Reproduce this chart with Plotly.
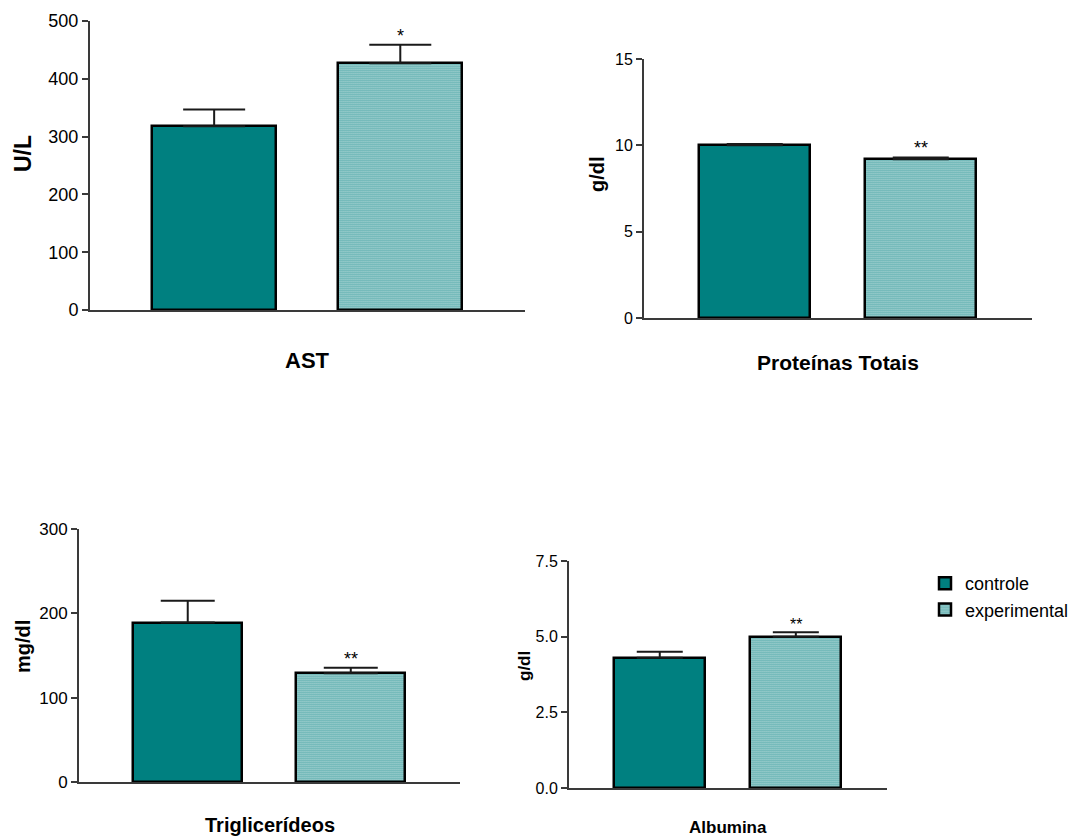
import plotly.graph_objects as go

# ---- data -------------------------------------------------------------
panel_titles = ["AST", "Proteínas Totais", "Triglicerídeos", "Albumina"]
y_units = ["U/L", "g/dl", "mg/dl", "g/dl"]
groups = ["controle", "experimental"]

control_mean = [318, 10.0, 189, 4.30]
control_sem = [29, 0.08, 26, 0.20]
exp_mean = [427, 9.2, 129, 5.0]
exp_sem = [32, 0.10, 6.5, 0.15]
significance = ["*", "**", "**", "**"]

y_max = [500, 15, 300, 7.5]
y_dtick = [100, 5, 100, 2.5]
y_tickformat = ["d", "d", "d", ".1f"]

# ---- layout (pixel geometry of each panel) ----------------------------
W, H = 1077, 838
FONT = "Arial, Liberation Sans, sans-serif"
TEAL = "#008080"
AXIS = "#3a3a3a"

panel_px = [
    # x_left, x_right, y_top, y_bottom
    (90, 525, 21, 310),
    (644, 1032, 59, 318),
    (79, 460, 529, 782),
    (569, 887, 561, 788),
]
tick_size = [18, 16, 17, 16]
xtitle_size = [22, 21, 20, 17]
xtitle_y = [360, 363, 825, 827]
ytitle_size = [23, 20, 20, 17]
ytitle_pos = [(23, 154), (597, 174), (23, 647), (524, 666)]
err_halfwidth = [31, 28, 27, 23]
star_size = [18, 18, 18, 16]

fig = go.Figure()

for i in range(4):
    ax = "" if i == 0 else str(i + 1)
    xref, yref = "x" + ax, "y" + ax
    for g, (mean, sem) in enumerate([(control_mean, control_sem), (exp_mean, exp_sem)]):
        marker = dict(color=TEAL, line=dict(color="black", width=2.5))
        if g == 1:
            # fine teal/white dither fill
            marker["pattern"] = dict(shape=".", fgcolor=TEAL, bgcolor="white",
                                     fgopacity=1, size=2, solidity=0.55,
                                     fillmode="replace")
        fig.add_trace(go.Bar(
            x=[groups[g]], y=[mean[i]], width=0.667,
            name=groups[g], legendgroup=groups[g], showlegend=(i == 0),
            marker=marker,
            error_y=dict(type="data", symmetric=False, array=[sem[i]], arrayminus=[0],
                         color="#1a1a1a", thickness=2, width=err_halfwidth[i]),
            xaxis=xref, yaxis=yref,
        ))
    # significance mark above the experimental error bar
    fig.add_annotation(x=groups[1], y=exp_mean[i] + exp_sem[i], xref=xref, yref=yref,
                       text=significance[i], showarrow=False, yanchor="bottom", yshift=-3,
                       font=dict(family=FONT, size=star_size[i], color="black"))

    xl, xr, yt, yb = panel_px[i]
    fig.update_layout({
        "xaxis" + ax: dict(domain=[xl / W, xr / W], range=[-0.667, 1.67],
                           type="category", categoryarray=groups, showticklabels=False,
                           ticks="", showline=True, linecolor=AXIS, linewidth=2,
                           showgrid=False, zeroline=False, anchor=yref, fixedrange=True),
        "yaxis" + ax: dict(domain=[1 - yb / H, 1 - yt / H], range=[0, y_max[i]],
                           dtick=y_dtick[i], tick0=0, tickformat=y_tickformat[i],
                           ticks="outside", ticklen=6, tickwidth=2, tickcolor=AXIS,
                           showline=True, linecolor=AXIS, linewidth=2,
                           showgrid=False, zeroline=False, anchor=xref,
                           tickfont=dict(family=FONT, size=tick_size[i], color="black"),
                           fixedrange=True),
    })
    # panel titles (below x axis) and y-axis units
    fig.add_annotation(x=(xl + xr) / 2 / W, y=1 - xtitle_y[i] / H, xref="paper", yref="paper",
                       text="<b>%s</b>" % panel_titles[i], showarrow=False,
                       xanchor="center", yanchor="middle",
                       font=dict(family=FONT, size=xtitle_size[i], color="black"))
    tx, ty = ytitle_pos[i]
    fig.add_annotation(x=tx / W, y=1 - ty / H, xref="paper", yref="paper",
                       text="<b>%s</b>" % y_units[i], showarrow=False, textangle=-90,
                       xanchor="center", yanchor="middle",
                       font=dict(family=FONT, size=ytitle_size[i], color="black"))

fig.update_layout(
    width=W, height=H, margin=dict(l=0, r=0, t=0, b=0, autoexpand=False),
    paper_bgcolor="white", plot_bgcolor="white",
    barmode="overlay", bargap=0,
    legend=dict(x=925 / W, y=1 - 565 / H, xanchor="left", yanchor="top",
                font=dict(family=FONT, size=18, color="black"),
                bgcolor="rgba(0,0,0,0)", tracegroupgap=0, itemclick=False,
                itemdoubleclick=False),
    font=dict(family=FONT),
)

fig.write_html("out.html", config={"displayModeBar": False})
